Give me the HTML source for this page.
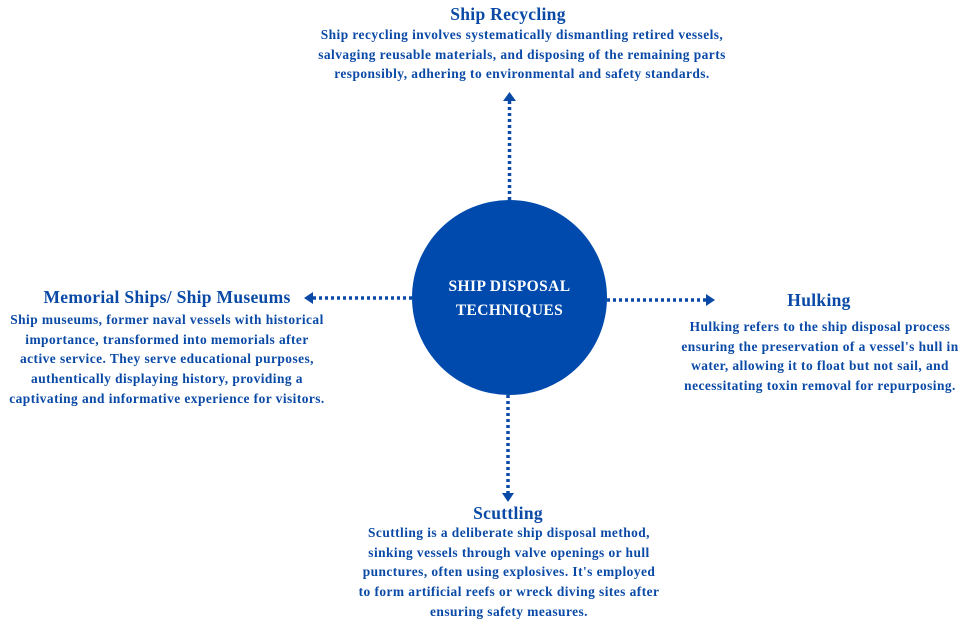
<!DOCTYPE html>
<html><head><meta charset="utf-8"><style>
html,body{margin:0;padding:0;background:#fff;}
body{width:962px;height:629px;position:relative;overflow:hidden;font-family:"Liberation Serif",serif;color:#0a4aa6;font-weight:bold;}
.t{position:absolute;font-size:17.5px;letter-spacing:0.3px;white-space:nowrap;}
.b{position:absolute;font-size:13.4px;letter-spacing:0.45px;line-height:19.7px;white-space:nowrap;}
.c{text-align:center;transform:translateX(-50%);}
</style></head><body>
<svg width="962" height="629" style="position:absolute;left:0;top:0">
<circle cx="509.5" cy="297.5" r="97.5" fill="#004aad"/>
<g stroke="#0a4aa6" stroke-width="3.5" stroke-dasharray="3,3" fill="none">
<line x1="509.5" y1="200" x2="509.5" y2="98"/>
<line x1="412" y1="298" x2="312" y2="298"/>
<line x1="607" y1="300" x2="706" y2="300"/>
<line x1="508" y1="395" x2="508" y2="494"/>
</g>
<g fill="#0a4aa6">
<polygon points="509.5,92 503,101 516,101"/>
<polygon points="304,298 313,292 313,304"/>
<polygon points="715,300 706,294 706,306"/>
<polygon points="508,502 502,493 514,493"/>
</g>
<text x="509.5" y="291" fill="#fff" font-family="Liberation Serif,serif" font-weight="bold" font-size="15.5" letter-spacing="0.4" text-anchor="middle">SHIP DISPOSAL</text>
<text x="509.5" y="315" fill="#fff" font-family="Liberation Serif,serif" font-weight="bold" font-size="15.5" letter-spacing="0.4" text-anchor="middle">TECHNIQUES</text>
</svg>
<div class="t c" style="left:508px;top:4px">Ship Recycling</div>
<div class="b c" style="left:522px;top:25px;text-align:center">Ship recycling involves systematically dismantling retired vessels,<br>salvaging reusable materials, and disposing of the remaining parts<br>responsibly, adhering to environmental and safety standards.</div>
<div class="t c" style="left:167px;top:287px">Memorial Ships/ Ship Museums</div>
<div class="b c" style="left:167px;top:310px;text-align:center">Ship museums, former naval vessels with historical<br>importance, transformed into memorials after<br>active service. They serve educational purposes,<br>authentically displaying history, providing a<br>captivating and informative experience for visitors.</div>
<div class="t c" style="left:819px;top:290px">Hulking</div>
<div class="b c" style="left:820px;top:317px;text-align:center">Hulking refers to the ship disposal process<br>ensuring the preservation of a vessel's hull in<br>water, allowing it to float but not sail, and<br>necessitating toxin removal for repurposing.</div>
<div class="t c" style="left:508px;top:503px">Scuttling</div>
<div class="b c" style="left:509px;top:523px;text-align:center">Scuttling is a deliberate ship disposal method,<br>sinking vessels through valve openings or hull<br>punctures, often using explosives. It's employed<br>to form artificial reefs or wreck diving sites after<br>ensuring safety measures.</div>
</body></html>
